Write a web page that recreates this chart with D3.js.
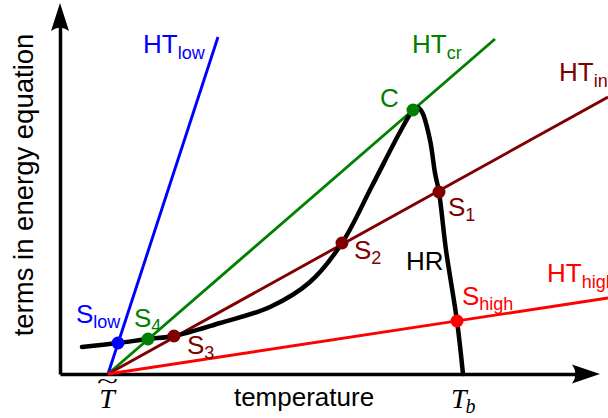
<!DOCTYPE html>
<html>
<head>
<meta charset="utf-8">
<script src="https://cdn.jsdelivr.net/npm/d3@7"></script>
<style>
    body { margin: 0; background: #fff; }
    svg { display: block; font-family: "Liberation Sans", Arial, sans-serif; }
</style>
</head>
<body>
<div id="chart"></div>
<script>
// temperature and energy terms, arbitrary units measured from the axes corner
const tTilde = 48;
const tB = 403;

// heat transfer lines HT, all starting at (tTilde, 0)
const htNames = ["low", "cr", "int", "high"];
const htEndX = [158, 435, 548, 548];
const htEndY = [337, 335, 277, 76];

// heat release curve HR
const hrX = [22, 58, 88, 114, 160, 210, 250, 282, 312, 340, 353, 357, 362, 370, 375, 379, 386, 397, 403];
const hrY = [27, 31, 35, 38, 51, 67, 92, 131, 188, 242, 264, 267, 262, 234, 201, 182, 124, 53, 0];

// intersection points
const pointNames = ["low", "4", "3", "2", "1", "C", "high"];
const pointSeries = ["low", "cr", "int", "int", "int", "cr", "high"];
const pointX = [58, 88, 114, 282, 379, 353, 397];
const pointY = [31, 35, 38, 131, 182, 264, 53];

const colors = { low: "#0000ff", cr: "#008000", int: "#800000", high: "#ff0000" };

function drawChart() {
    const width = 608, height = 418;

    const svg = d3.select("#chart")
        .append("svg")
        .attr("width", width)
        .attr("height", height);

    const x = d3.scaleLinear().domain([0, 540]).range([60, 600]);
    const y = d3.scaleLinear().domain([0, 371]).range([374, 3]);

    // axes without ticks, shortened so the arrow heads cover the ends
    const xAxisScale = x.copy().domain([0, 525]).range([x(0), x(525)]);
    const yAxisScale = y.copy().domain([0, 355]).range([y(0), y(355)]);

    svg.append("g")
        .attr("transform", `translate(0,${y(0)})`)
        .call(d3.axisBottom(xAxisScale).tickValues([]).tickSizeOuter(0))
        .select(".domain")
        .attr("stroke", "#000")
        .attr("stroke-width", 3.5);

    svg.append("g")
        .attr("transform", `translate(${x(0)},0)`)
        .call(d3.axisLeft(yAxisScale).tickValues([]).tickSizeOuter(0))
        .select(".domain")
        .attr("stroke", "#000")
        .attr("stroke-width", 3.5);

    // arrow heads
    const xt = x(540), yt = y(0);
    svg.append("path")
        .attr("d", `M${xt},${yt} L${xt - 28},${yt + 9.5} Q${xt - 21},${yt} ${xt - 28},${yt - 9.5} Z`)
        .attr("fill", "#000");
    const xu = x(0), yu = y(371);
    svg.append("path")
        .attr("d", `M${xu},${yu} L${xu + 9},${yu + 28} Q${xu},${yu + 21} ${xu - 9},${yu + 28} Z`)
        .attr("fill", "#000");

    // axis titles
    svg.append("text")
        .attr("x", 304)
        .attr("y", 406)
        .attr("text-anchor", "middle")
        .attr("font-size", 26)
        .text("temperature");

    svg.append("text")
        .attr("transform", "translate(33,185) rotate(-90)")
        .attr("text-anchor", "middle")
        .attr("font-size", 27.5)
        .text("terms in energy equation");

    // T~ and T_b on the temperature axis
    const serif = "'Liberation Serif', 'Times New Roman', serif";
    svg.append("text")
        .attr("x", x(tTilde) - 1)
        .attr("y", 408)
        .attr("text-anchor", "middle")
        .attr("font-family", serif)
        .attr("font-style", "italic")
        .attr("font-size", 28)
        .text("T");
    svg.append("text")
        .attr("x", x(tTilde) - 11)
        .attr("y", 388)
        .attr("font-family", serif)
        .attr("font-size", 22)
        .attr("textLength", 21)
        .attr("lengthAdjust", "spacingAndGlyphs")
        .text("~");

    const tb = svg.append("text")
        .attr("x", x(tB) - 12)
        .attr("y", 408)
        .attr("font-family", serif)
        .attr("font-style", "italic")
        .attr("font-size", 28);
    tb.append("tspan").text("T");
    tb.append("tspan").attr("font-size", 20).attr("dy", 5).attr("dx", -1).text("b");

    // HT lines
    const htData = htNames.map((name, i) => ({ name, x: htEndX[i], y: htEndY[i] }));
    const line = d3.line().x(d => x(d[0])).y(d => y(d[1]));

    svg.append("g")
        .selectAll("path")
        .data(htData)
        .join("path")
        .attr("d", d => line([[tTilde, 0], [d.x, d.y]]))
        .attr("fill", "none")
        .attr("stroke", d => colors[d.name])
        .attr("stroke-width", 2.9);

    // HR curve
    const hrData = hrX.map((v, i) => [v, hrY[i]]);
    svg.append("path")
        .datum(hrData)
        .attr("d", d3.line().x(d => x(d[0])).y(d => y(d[1])).curve(d3.curveCatmullRom.alpha(0.5)))
        .attr("fill", "none")
        .attr("stroke", "#000")
        .attr("stroke-width", 4.5)
        .attr("stroke-linecap", "round")
        .attr("stroke-linejoin", "round");

    // intersection dots
    const pts = pointNames.map((name, i) => ({ name, series: pointSeries[i], x: pointX[i], y: pointY[i] }));
    svg.append("g")
        .selectAll("circle")
        .data(pts)
        .join("circle")
        .attr("cx", d => x(d.x))
        .attr("cy", d => y(d.y))
        .attr("r", 6.5)
        .attr("fill", d => colors[d.series]);

    // labels next to the dots (pixel offsets from dot centre)
    const pointOffsets = {
        low: [-42, -20], "4": [-14, -12], "3": [13, 18], "2": [12, 16],
        "1": [9, 24], C: [-33, -3], high: [5, -16]
    };
    pts.forEach(d => {
        const [dx, dy] = pointOffsets[d.name];
        const t = svg.append("text")
            .attr("x", x(d.x) + dx)
            .attr("y", y(d.y) + dy)
            .attr("font-size", 26)
            .attr("fill", colors[d.series]);
        if (d.name === "C") {
            t.text("C");
        } else {
            t.append("tspan").text("S");
            t.append("tspan").attr("font-size", 18).attr("dy", 5).text(d.name);
        }
    });

    // labels at the end of the HT lines
    const htOffsets = { low: [-75, 16], cr: [-83, 14], int: [-49, -16], high: [-61, -16] };
    htData.forEach(d => {
        const [dx, dy] = htOffsets[d.name];
        const t = svg.append("text")
            .attr("x", x(d.x) + dx)
            .attr("y", y(d.y) + dy)
            .attr("font-size", 26)
            .attr("fill", colors[d.name]);
        t.append("tspan").text("HT");
        t.append("tspan").attr("font-size", 18).attr("dy", 6).text(d.name);
    });

    svg.append("text")
        .attr("x", x(346))
        .attr("y", y(104))
        .attr("font-size", 26)
        .text("HR");
}

drawChart();
</script>
</body>
</html>
